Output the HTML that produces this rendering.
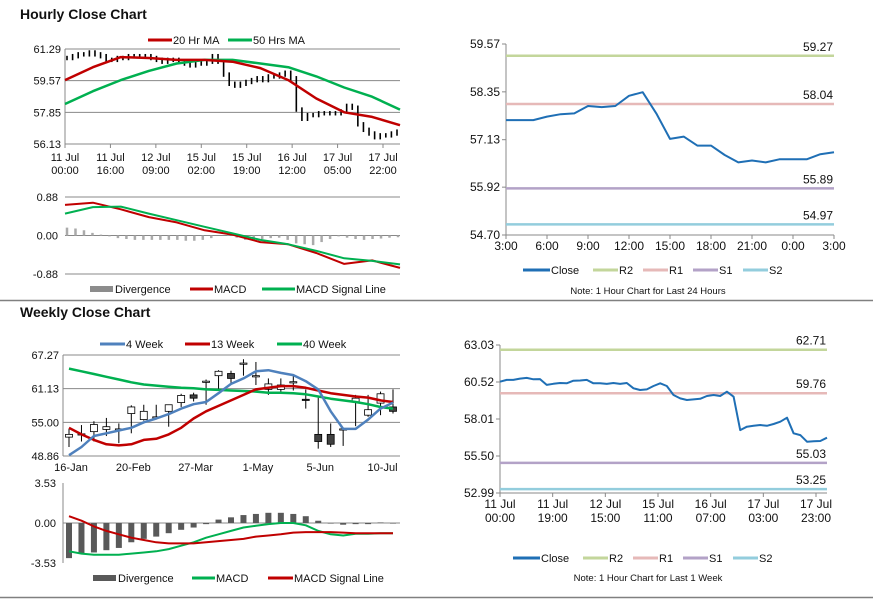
<!DOCTYPE html>
<html><head><meta charset="utf-8">
<style>
body{margin:0;background:#fff;width:873px;height:601px;overflow:hidden;font-family:"Liberation Sans",Arial,sans-serif}
svg{position:absolute;left:0;top:0}
text{font-family:"Liberation Sans",Arial,sans-serif;fill:#111}
</style></head>
<body>
<svg id="s" width="873" height="601">
<text x="20" y="19" font-size="14" font-weight="bold">Hourly Close Chart</text>
<text x="20" y="317" font-size="14" font-weight="bold">Weekly Close Chart</text>
<line x1="0" y1="300.5" x2="873" y2="300.5" stroke="#808080" stroke-width="1.5"/>
<line x1="0" y1="597.5" x2="873" y2="597.5" stroke="#808080" stroke-width="1.5"/>
</svg>
<script>
// ---------- Hourly chart data ----------
const hourlyXLabels = [["11 Jul","00:00"],["11 Jul","16:00"],["12 Jul","09:00"],["15 Jul","02:00"],["15 Jul","19:00"],["16 Jul","12:00"],["17 Jul","05:00"],["17 Jul","22:00"]];
const hourlyYTicks = [61.29,59.57,57.85,56.13];
const hourlyClose = [60.8,60.9,61.0,61.0,61.1,61.0,60.9,60.7,60.7,60.8,60.8,60.9,60.9,60.9,60.9,60.8,60.7,60.6,60.7,60.7,60.6,60.5,60.4,60.5,60.5,60.6,60.9,60.6,59.9,59.4,59.3,59.4,59.5,59.6,59.7,59.6,59.8,59.8,59.9,60.0,59.7,58.0,57.5,57.7,57.7,57.8,57.8,57.8,57.8,57.9,58.2,58.1,57.2,56.9,56.7,56.5,56.6,56.6,56.7,56.8];
const hourlyMA20 = [59.6,60.3,60.85,60.8,60.7,60.7,60.6,60.25,59.6,58.6,57.85,57.6,57.15];
const hourlyMA50 = [58.3,59.0,59.6,60.1,60.5,60.7,60.7,60.5,60.3,59.8,59.2,58.7,58.0];
const hourlyMacdTicks = [0.88,0.00,-0.88];
const hourlyMacd = [0.7,0.75,0.6,0.42,0.3,0.12,0.02,-0.15,-0.2,-0.4,-0.65,-0.57,-0.74];
const hourlySignal = [0.5,0.65,0.66,0.5,0.35,0.2,0.05,-0.1,-0.2,-0.35,-0.52,-0.58,-0.66];
const hourlyDiv = [0.18,0.16,0.12,0.06,0.02,-0.02,-0.06,-0.08,-0.1,-0.1,-0.1,-0.1,-0.1,-0.1,-0.12,-0.12,-0.1,-0.06,0.0,0.05,-0.05,-0.1,-0.1,-0.08,-0.06,-0.05,-0.1,-0.18,-0.2,-0.22,-0.15,-0.08,-0.02,-0.05,-0.08,-0.1,-0.08,-0.07,-0.05,-0.04];
// ---------- 24h pivot chart ----------
const dayXLabels = ["3:00","6:00","9:00","12:00","15:00","18:00","21:00","0:00","3:00"];
const dayYTicks = [59.57,58.35,57.13,55.92,54.70];
const dayClose = [57.63,57.63,57.63,57.72,57.78,57.80,57.99,57.96,57.99,58.25,58.34,57.80,57.15,57.21,56.98,56.98,56.74,56.55,56.60,56.55,56.63,56.63,56.63,56.76,56.81];
const dayLevelNames = ["R2","R1","S1","S2"];
const dayLevels = [59.27,58.04,55.89,54.97];
// ---------- Weekly chart ----------
const weekXLabels = ["16-Jan","20-Feb","27-Mar","1-May","5-Jun","10-Jul"];
const weekYTicks = [67.27,61.13,55.00,48.86];
const weekOpen  = [52.3,52.9,53.3,53.7,53.8,56.6,55.5,56.0,57.0,58.6,60.0,62.5,63.5,63.9,65.8,63.5,61.0,61.0,62.4,59.2,52.8,52.8,53.8,58.7,56.3,58.5,57.8];
const weekClose = [52.8,52.9,54.6,54.2,53.8,57.8,57.0,56.0,58.2,59.9,59.4,62.5,64.3,63.0,65.8,63.5,62.0,61.8,62.4,59.0,51.5,51.0,53.8,59.4,57.3,60.2,57.0];
const weekHigh  = [53.8,54.5,55.2,55.8,54.8,58.1,58.2,58.2,58.2,60.2,60.4,62.8,64.5,64.4,66.5,66.0,63.0,63.0,63.6,61.0,59.5,54.8,53.8,60.0,60.0,60.6,61.0];
const weekLow   = [50.5,51.5,51.5,52.5,51.2,53.0,55.3,55.5,54.2,57.8,58.8,58.2,61.0,62.2,63.5,61.8,60.0,60.5,60.8,57.5,50.2,50.5,50.7,54.3,56.0,56.3,56.6];
const week4 = [49.0,50.5,52.5,53.0,53.5,54.0,55.0,55.7,56.5,57.5,58.3,58.7,60.3,62.0,63.0,64.3,64.5,64.0,63.6,62.5,61.0,57.0,53.8,53.8,55.5,57.5,58.6];
const week13 = [54.0,52.8,51.8,51.0,50.8,51.0,51.8,52.0,52.8,54.0,55.7,57.0,58.0,59.0,60.0,61.0,61.3,61.6,61.6,61.3,60.8,60.3,60.0,59.7,59.5,59.0,58.7];
const week40 = [64.8,64.3,63.8,63.3,62.8,62.3,61.9,61.7,61.5,61.3,61.2,61.0,60.9,60.8,60.7,60.6,60.4,60.4,60.3,60.1,59.7,59.3,59.0,58.7,58.3,57.8,57.5];
const weekMacdTicks = [3.53,0.00,-3.53];
const weekDiv = [-3.1,-2.7,-2.6,-2.4,-2.2,-1.7,-1.4,-1.2,-0.9,-0.6,-0.4,-0.1,0.3,0.5,0.7,0.8,0.9,0.9,0.8,0.6,0.2,-0.05,-0.15,-0.1,-0.1,0.05,-0.05];
const weekMacd = [-2.5,-2.7,-2.8,-2.8,-2.8,-2.7,-2.6,-2.5,-2.3,-2.0,-1.7,-1.3,-1.0,-0.7,-0.4,-0.25,-0.1,0.0,0.0,-0.2,-0.7,-1.0,-1.1,-0.95,-0.95,-0.9,-0.9];
const weekSignal = [0.6,0.2,-0.3,-0.7,-1.0,-1.3,-1.5,-1.7,-1.8,-1.8,-1.8,-1.7,-1.6,-1.5,-1.4,-1.2,-1.1,-1.0,-0.85,-0.8,-0.8,-0.8,-0.85,-0.9,-0.9,-0.9,-0.9];
// ---------- 1 week pivot chart ----------
const wkXLabels = [["11 Jul","00:00"],["11 Jul","19:00"],["12 Jul","15:00"],["15 Jul","11:00"],["16 Jul","07:00"],["17 Jul","03:00"],["17 Jul","23:00"]];
const wkYTicks = [63.03,60.52,58.01,55.50,52.99];
const wkClose = [60.54,60.66,60.66,60.75,60.80,60.70,60.72,60.32,60.40,60.45,60.43,60.61,60.62,60.66,60.43,60.43,60.39,60.45,60.39,60.45,60.09,59.98,60.02,60.25,60.43,60.25,59.64,59.41,59.30,59.34,59.38,59.57,59.64,59.57,59.86,59.52,57.26,57.49,57.55,57.60,57.55,57.67,57.83,58.10,57.04,56.92,56.47,56.50,56.52,56.74];
const wkLevelNames = ["R2","R1","S1","S2"];
const wkLevels = [62.71,59.76,55.03,53.25];

const S = document.getElementById('s');
const NS = 'http://www.w3.org/2000/svg';
function mk(tag, attrs, parent){
  const e = document.createElementNS(NS, tag);
  for (const k in attrs) e.setAttribute(k, attrs[k]);
  (parent||S).appendChild(e);
  return e;
}
function txt(x,y,str,size,anchor){
  const t = mk('text',{x:x,y:y,'font-size':size||11,'text-anchor':anchor||'start'});
  t.textContent = str;
  return t;
}
function lin(v0,v1,p0,p1){ return v => p0 + (v-v0)/(v1-v0)*(p1-p0); }
function pathOf(arr, xf, yf){ return arr.map((v,i)=>(i?'L':'M')+xf(i).toFixed(1)+','+yf(v).toFixed(1)).join(''); }
function legendLine(x,y,color,label,w,name){
  const l = mk('line',{x1:x,y1:y,x2:x+w,y2:y,stroke:color,'stroke-width':3});
  
  
  const t = txt(x+w+1,y+4,label,11);
  
  
}
function legendBox(x,y,color,label,name){
  const r = mk('rect',{x:x,y:y-3,width:23,height:6,fill:color});
  
  
  const t = txt(x+25,y+4,label,11);
  
  
}
function yAxis(ticks, yf, x0, x1, grid, name){
  ticks.forEach(v=>{
    if (grid){
      const g = mk('line',{x1:x0,y1:yf(v),x2:x1,y2:yf(v),stroke:'#888','stroke-width':1});
      
      
    }
    const t = txt(x0-4, yf(v)+4, v.toFixed(2), 11, 'end');
    
    
  });
  const a = mk('line',{x1:x0,y1:yf(ticks[0]),x2:x0,y2:yf(ticks[ticks.length-1]),stroke:'#888','stroke-width':1});
  
  
}
function seriesLine(arr,xf,yf,color,w,name){
  const p = mk('path',{d:pathOf(arr,xf,yf),fill:'none',stroke:color,'stroke-width':w,'stroke-linejoin':'round'});
  
  
}

const RED='#c00000', GREEN='#00b050', BLUE='#4f81bd', DBLUE='#1f6fb5';

// ===== Hourly price =====
(function(){
  const x0=65,x1=400;
  const yf = lin(61.29,56.13,49,144);
  yAxis(hourlyYTicks,yf,x0,x1,true,'hourly-price');
  const xl = lin(0,hourlyXLabels.length-1,x0,383);
  hourlyXLabels.forEach((l,i)=>{
    const tk = mk('line',{x1:xl(i),y1:144,x2:xl(i),y2:148,stroke:'#888'});
    
    
    const a = txt(xl(i),161,l[0],11,'middle');
    
    
    const b = txt(xl(i),174,l[1],11,'middle');
    
    
  });
  const xc = lin(0,hourlyClose.length-1,x0+2,x1-3);
  hourlyClose.forEach((v,i)=>{
    const prev = i ? hourlyClose[i-1] : v;
    const lo = Math.min(prev,v)-0.12, hi = Math.max(prev,v)+0.12;
    const b = mk('line',{x1:xc(i),y1:yf(hi),x2:xc(i),y2:yf(lo),stroke:'#000','stroke-width':1.6});
    
    
  });
  const xm = lin(0,hourlyMA20.length-1,x0,x1);
  seriesLine(hourlyMA50,xm,yf,GREEN,2.5,'ma-50-line');
  seriesLine(hourlyMA20,xm,yf,RED,2.5,'ma-20-line');
  legendLine(148,40,RED,'20 Hr MA',24,'legend-ma-20');
  legendLine(228,40,GREEN,'50 Hrs MA',24,'legend-ma-50');
})();
// ===== Hourly MACD =====
(function(){
  const x0=65,x1=400;
  const yf = lin(0.88,-0.88,197,274);
  hourlyMacdTicks.forEach(v=>{
    const g = mk('line',{x1:x0,y1:yf(v),x2:x1,y2:yf(v),stroke:'#888'});
    
    
    const t = txt(x0-7,yf(v)+4,v.toFixed(2),11,'end');
    
    
  });
  const xd = lin(0,hourlyDiv.length-1,x0+2,x1-2);
  hourlyDiv.forEach((v,i)=>{
    const b = mk('line',{x1:xd(i),y1:yf(0),x2:xd(i),y2:yf(v),stroke:'#aaa','stroke-width':2.5});
    
    
  });
  const xm = lin(0,hourlyMacd.length-1,x0,x1);
  seriesLine(hourlyMacd,xm,yf,RED,2,'hourly-macd-line');
  seriesLine(hourlySignal,xm,yf,GREEN,2,'hourly-signal-line');
  legendBox(90,289,'#8c8c8c','Divergence','legend-hourly-divergence');
  legendLine(190,289,RED,'MACD',23,'legend-hourly-macd');
  legendLine(262,289,GREEN,'MACD Signal Line',33,'legend-hourly-signal');
})();
// ===== pivots =====
function pivotChart(cfg){
  const yf = lin(cfg.ticks[0],cfg.ticks[cfg.ticks.length-1],cfg.yt,cfg.yb);
  cfg.ticks.forEach(v=>{
    const t = txt(cfg.x0-6,yf(v)+4,v.toFixed(2),12,'end');
    
    
    const tk = mk('line',{x1:cfg.x0-4,y1:yf(v),x2:cfg.x0,y2:yf(v),stroke:'#888'});
    
    
  });
  const ax = mk('line',{x1:cfg.x0,y1:cfg.yt,x2:cfg.x0,y2:cfg.yb,stroke:'#888'});
  
  
  const bx = mk('line',{x1:cfg.x0,y1:cfg.yb,x2:cfg.x1,y2:cfg.yb,stroke:'#888'});
  
  
  const cols = ['#c3d69b','#e6b9b8','#b3a2c7','#93cddd'];
  cfg.levels.forEach((v,i)=>{
    const l = mk('line',{x1:cfg.x0,y1:yf(v),x2:cfg.x1,y2:yf(v),stroke:cols[i],'stroke-width':2.5});
    
    
    const t = txt(cfg.x1-1,yf(v)-5,v.toFixed(2),12,'end');
    
    
  });
  const xl = lin(0,cfg.xlabels.length-1,cfg.x0,cfg.xlEnd);
  cfg.xlabels.forEach((l,i)=>{
    const tk = mk('line',{x1:xl(i),y1:cfg.yb,x2:xl(i),y2:cfg.yb+4,stroke:'#888'});
    
    
    const lines = Array.isArray(l)?l:[l];
    lines.forEach((s,j)=>{
      const t = txt(xl(i),cfg.yb+15+j*14,s,12,'middle');
      
      
    });
  });
  const xc = lin(0,cfg.close.length-1,cfg.x0,cfg.x1);
  seriesLine(cfg.close,xc,yf,DBLUE,2,cfg.name+'-close-line');
  const ly = cfg.ly, lx = cfg.lx;
  legendLine(lx,ly,DBLUE,'Close',27,cfg.name+'-legend-close');
  const names = cfg.levelNames;
  names.forEach((n,i)=>legendLine(lx+70+i*50,ly,cols[i],n,25,cfg.name+'-legend-'+n.toLowerCase()));
  const note = txt(648,cfg.noteY,cfg.note,9.5,'middle');
  
  
}
pivotChart({name:'day-pivot',x0:506,x1:834,xlEnd:834,yt:44,yb:235,ticks:dayYTicks,levels:dayLevels,levelNames:dayLevelNames,
  xlabels:dayXLabels,close:dayClose,lx:523,ly:270,noteY:294,note:'Note: 1 Hour Chart for Last 24 Hours'});
pivotChart({name:'week-pivot',x0:500,x1:827,xlEnd:816,yt:345,yb:493,ticks:wkYTicks,levels:wkLevels,levelNames:wkLevelNames,
  xlabels:wkXLabels,close:wkClose,lx:513,ly:558,noteY:581,note:'Note: 1 Hour Chart for Last 1 Week'});

// ===== Weekly price =====
(function(){
  const x0=63,x1=400;
  const yf = lin(67.27,48.86,355,456);
  yAxis(weekYTicks,yf,x0,x1,true,'weekly-price');
  const xc = lin(0,weekClose.length-1,69,393);
  weekXLabels.forEach((l,i)=>{
    const t = txt(xc(i*5)+2,471,l,11,'middle');
    
    
  });
  weekClose.forEach((c,i)=>{
    const o = weekOpen[i];
    const w = mk('line',{x1:xc(i),y1:yf(weekHigh[i]),x2:xc(i),y2:yf(weekLow[i]),stroke:'#000','stroke-width':1});
    
    
    const top = yf(Math.max(o,c)), bot = yf(Math.min(o,c));
    const r = mk('rect',{x:xc(i)-3.5,y:top,width:7,height:Math.max(bot-top,1.2),fill:c>=o?'#fff':'#404040',stroke:'#000','stroke-width':0.8});
    
    
  });
  seriesLine(week40,xc,yf,GREEN,2.5,'week-40-line');
  seriesLine(week13,xc,yf,RED,2.5,'week-13-line');
  seriesLine(week4,xc,yf,BLUE,2.5,'week-4-line');
  legendLine(100,344,BLUE,'4 Week',25,'legend-week-4');
  legendLine(185,344,RED,'13 Week',25,'legend-week-13');
  legendLine(277,344,GREEN,'40 Week',25,'legend-week-40');
})();
// ===== Weekly MACD =====
(function(){
  const x0=63,x1=400;
  const yf = lin(3.53,-3.53,483,563);
  weekMacdTicks.forEach(v=>{
    const t = txt(x0-7,yf(v)+4,v.toFixed(2),11,'end');
    
    
  });
  const g = mk('line',{x1:x0,y1:yf(0),x2:x1,y2:yf(0),stroke:'#888'});
  
  
  const ax = mk('line',{x1:x0,y1:483,x2:x0,y2:563,stroke:'#888'});
  
  
  const xc = lin(0,weekDiv.length-1,69,393);
  weekDiv.forEach((v,i)=>{
    const y0=yf(0), y1=yf(v);
    const r = mk('rect',{x:xc(i)-3,y:Math.min(y0,y1),width:6,height:Math.abs(y1-y0),fill:'#595959'});
    
    
  });
  seriesLine(weekMacd,xc,yf,GREEN,2,'weekly-macd-line');
  seriesLine(weekSignal,xc,yf,RED,2,'weekly-signal-line');
  legendBox(93,578,'#595959','Divergence','legend-weekly-divergence');
  legendLine(192,578,GREEN,'MACD',23,'legend-weekly-macd');
  legendLine(268,578,RED,'MACD Signal Line',25,'legend-weekly-signal');
})();
</script>
</body></html>
